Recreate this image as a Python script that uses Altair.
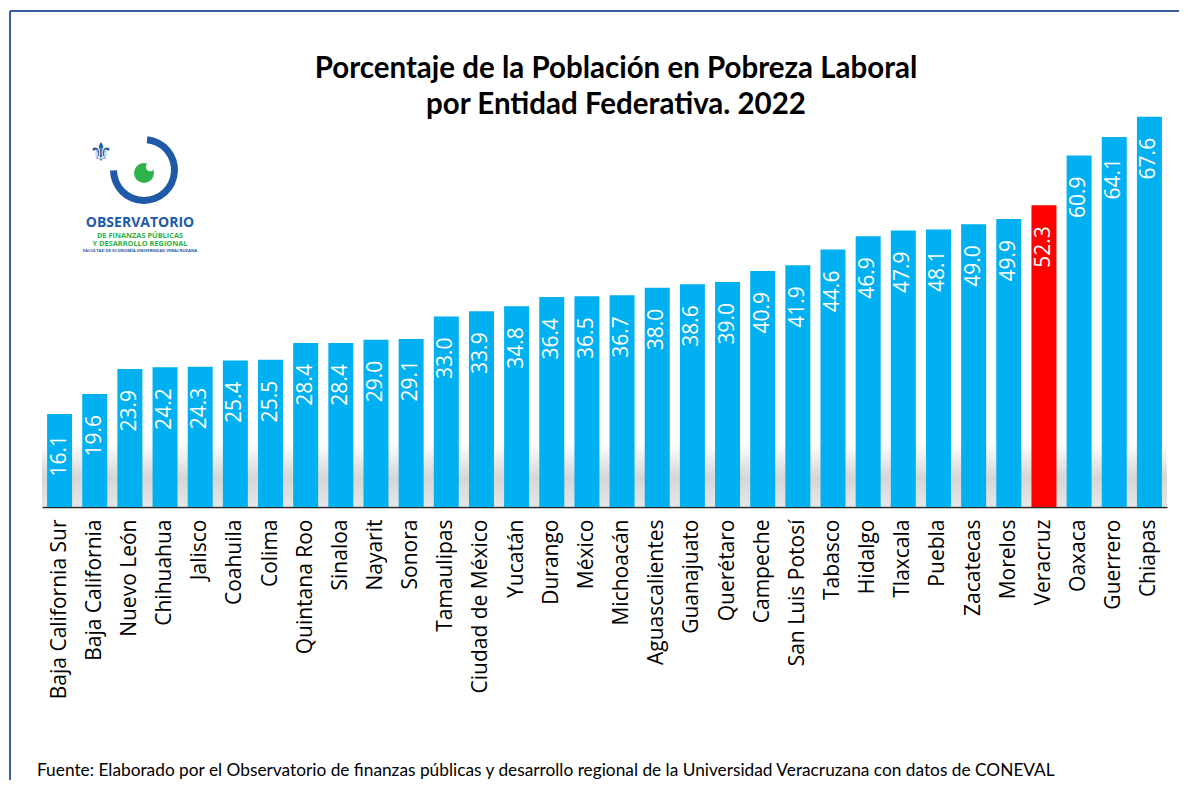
import altair as alt
import pandas as pd

estados = ["Baja California Sur", "Baja California", "Nuevo León", "Chihuahua", "Jalisco",
           "Coahuila", "Colima", "Quintana Roo", "Sinaloa", "Nayarit", "Sonora", "Tamaulipas",
           "Ciudad de México", "Yucatán", "Durango", "México", "Michoacán", "Aguascalientes",
           "Guanajuato", "Querétaro", "Campeche", "San Luis Potosí", "Tabasco", "Hidalgo",
           "Tlaxcala", "Puebla", "Zacatecas", "Morelos", "Veracruz", "Oaxaca", "Guerrero", "Chiapas"]
valores = [16.1, 19.6, 23.9, 24.2, 24.3, 25.4, 25.5, 28.4, 28.4, 29.0, 29.1, 33.0,
           33.9, 34.8, 36.4, 36.5, 36.7, 38.0, 38.6, 39.0, 40.9, 41.9, 44.6, 46.9,
           47.9, 48.1, 49.0, 49.9, 52.3, 60.9, 64.1, 67.6]
destacado = "Veracruz"
titulo = ["Porcentaje de la Población en Pobreza Laboral", "por Entidad Federativa. 2022"]
fuente = ("Fuente: Elaborado por el Observatorio de finanzas públicas y desarrollo regional "
          "de la Universidad Veracruzana con datos de CONEVAL")
logo_lineas = ["OBSERVATORIO", "DE FINANZAS PÚBLICAS", "Y DESARROLLO REGIONAL",
               "FACULTAD DE ECONOMÍA UNIVERSIDAD VERACRUZANA"]

df = pd.DataFrame({"estado": estados, "valor": valores})
one = pd.DataFrame({"a": [0]})

W, H = 1125, 404
AZUL = "#00b0f0"
ROJO = "#ff0000"
BORDE = "#3b5ea3"

x = alt.X("estado:N", sort=None,
          scale=alt.Scale(paddingInner=0.289, paddingOuter=0.1445),
          axis=alt.Axis(title=None, labelAngle=270, labelAlign="right", labelBaseline="middle",
                        labelFont="Open Sans", labelFontSize=21, labelColor="#000000",
                        labelPadding=12, labelLimit=400, ticks=False, tickSize=0,
                        domainColor="#262626", domainWidth=1.5, grid=False))
y = alt.Y("valor:Q", scale=alt.Scale(domain=[0, 70], nice=False), axis=None)

base = alt.Chart(df).encode(x=x, y=y)
bars = base.mark_bar().encode(
    color=alt.condition(alt.datum.estado == destacado, alt.value(ROJO), alt.value(AZUL))
)
labels = base.mark_text(angle=270, align="right", baseline="middle", dx=-21,
                        color="white", font="Open Sans", fontSize=21).encode(
    text=alt.Text("valor:Q", format=".1f")
)

grad = alt.Gradient(gradient="linear", x1=0, x2=0, y1=0, y2=1,
                    stops=[alt.GradientStop(color="#ffffff", offset=0),
                           alt.GradientStop(color="#d6d6d6", offset=0.55),
                           alt.GradientStop(color="#e6e6e6", offset=1)])
shadow = alt.Chart(one).mark_rect(fill=grad).encode(
    x=alt.value(0), x2=alt.value(W), y=alt.value(340), y2=alt.value(403)
)

border_left = alt.Chart(one).mark_rule(color=BORDE, strokeWidth=2).encode(
    x=alt.value(-32), y=alt.value(-92), y2=alt.value(700))
border_top = alt.Chart(one).mark_rule(color=BORDE, strokeWidth=2).encode(
    x=alt.value(-32), x2=alt.value(1140), y=alt.value(-92))

t1 = alt.Chart(one).mark_text(font="Lato", fontWeight="bold", fontSize=29.5, align="center",
                              baseline="alphabetic", color="#000000").encode(
    x=alt.value(574), y=alt.value(-25), text=alt.value(titulo[0]))
t2 = alt.Chart(one).mark_text(font="Lato", fontWeight="bold", fontSize=29.5, align="center",
                              baseline="alphabetic", color="#000000").encode(
    x=alt.value(574), y=alt.value(11), text=alt.value(titulo[1]))

foot = alt.Chart(one).mark_text(font="Lato", fontSize=17.3, align="left",
                                baseline="alphabetic", color="#000000").encode(
    x=alt.value(-5), y=alt.value(673), text=alt.value(fuente))

# logo (approximation)
fleur = alt.Chart(one).mark_text(font="DejaVu Sans", fontSize=26, color="#1f5aa6",
                                 baseline="middle", align="center").encode(
    x=alt.value(59), y=alt.value(50), text=alt.value("⚜"))
ring = alt.Chart(one).mark_arc(radius=34, radius2=27, theta=0.1, theta2=4.7,
                               color="#1f5aa6").encode(x=alt.value(102), y=alt.value(67))
dot = alt.Chart(one).mark_circle(size=400, color="#2eb34a", opacity=1).encode(
    x=alt.value(102), y=alt.value(70))
notch = alt.Chart(one).mark_circle(size=70, color="#ffffff", opacity=1).encode(
    x=alt.value(108), y=alt.value(64))
l1 = alt.Chart(one).mark_text(font="Open Sans", fontWeight="bold", fontSize=14,
                              color="#1c5aa8", align="center", baseline="alphabetic").encode(
    x=alt.value(98), y=alt.value(124), text=alt.value(logo_lineas[0]))
l2 = alt.Chart(one).mark_text(font="Open Sans", fontWeight="bold", fontSize=7.4,
                              color="#2eb34a", align="center", baseline="alphabetic").encode(
    x=alt.value(98), y=alt.value(134.5), text=alt.value(logo_lineas[1]))
l3 = alt.Chart(one).mark_text(font="Open Sans", fontWeight="bold", fontSize=7.4,
                              color="#2eb34a", align="center", baseline="alphabetic").encode(
    x=alt.value(98), y=alt.value(142.5), text=alt.value(logo_lineas[2]))
l4 = alt.Chart(one).mark_text(font="Open Sans", fontWeight="bold", fontSize=4.2,
                              color="#1c5aa8", align="center", baseline="alphabetic").encode(
    x=alt.value(98), y=alt.value(148.5), text=alt.value(logo_lineas[3]))

chart = alt.layer(
    border_left, border_top, shadow, bars, labels, t1, t2, foot,
    fleur, ring, dot, notch, l1, l2, l3, l4
).properties(
    width=W, height=H,
    autosize=alt.AutoSizeParams(type="none"),
    padding={"left": 34, "top": 95, "right": 12, "bottom": 273},
    background="white",
).configure_view(stroke=None)

chart.save("out.html", embed_options={"renderer": "svg", "actions": False})
